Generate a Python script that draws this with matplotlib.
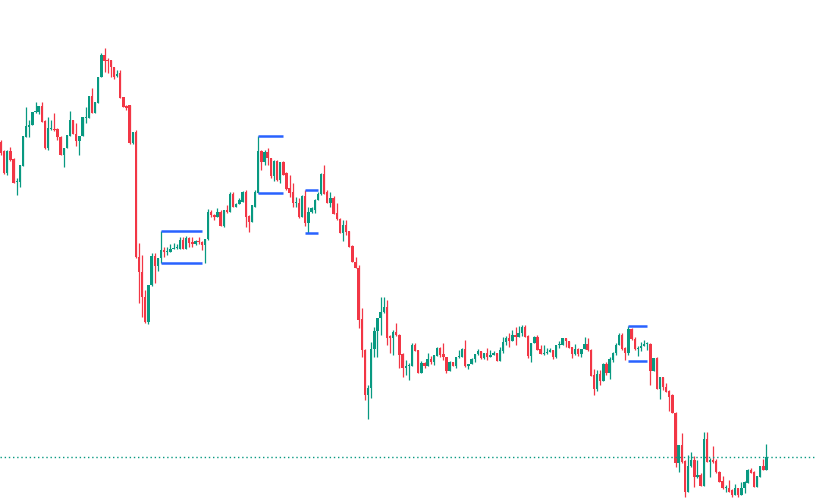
import numpy as np
import matplotlib
matplotlib.use("Agg")
import matplotlib.pyplot as plt

# OHLC per candle (arbitrary price units)
opens = [358, 349, 327, 349, 341, 318, 318, 334, 363, 373, 375, 388, 388, 394, 379, 352, 371, 371, 371, 363,
         345, 352, 364, 380, 366, 359, 364, 382, 382, 404, 387, 397, 423, 445, 440, 440, 433, 424, 427, 403,
         394, 395, 357, 368, 243, 228, 203, 178, 215, 244, 234, 242, 250, 248, 248, 251, 252, 251, 260, 251,
         262, 258, 256, 259, 258, 255, 261, 288, 285, 283, 288, 274, 290, 288, 306, 293, 296, 298, 308, 284,
         278, 293, 307, 349, 338, 348, 342, 324, 339, 320, 338, 327, 312, 308, 297, 297, 283, 304, 277, 288,
         290, 300, 306, 326, 308, 297, 302, 287, 281, 267, 275, 269, 254, 238, 232, 181, 150, 105, 112, 151,
         169, 182, 188, 193, 164, 162, 168, 165, 146, 132, 134, 134, 155, 150, 127, 137, 134, 141, 138, 144,
         152, 146, 143, 129, 138, 134, 143, 143, 151, 134, 136, 141, 146, 149, 142, 147, 143, 145, 147, 139,
         149, 158, 162, 159, 165, 163, 167, 173, 164, 144, 157, 163, 151, 146, 147, 148, 150, 143, 155, 155,
         162, 159, 153, 146, 151, 146, 151, 156, 150, 125, 111, 126, 119, 136, 127, 140, 147, 155, 165, 152,
         147, 171, 161, 151, 152, 154, 156, 156, 129, 142, 111, 123, 113, 109, 105, 87, 37, 55, 39, 8,
         34, 40, 23, 25, 14, 61, 38, 40, 39, 28, 19, 12, 12, 10, 5, 12, 5, 12, 17, 30,
         28, 13, 23, 34, 30]
highs = [360, 350, 350, 353, 342, 322, 335, 364, 393, 380, 388, 398, 394, 398, 380, 383, 380, 387, 372, 364,
         352, 365, 389, 380, 377, 364, 383, 393, 404, 412, 398, 423, 447, 452, 442, 440, 433, 430, 430, 403,
         395, 395, 368, 370, 257, 245, 210, 215, 247, 247, 242, 269, 253, 253, 256, 257, 256, 263, 263, 264,
         263, 263, 260, 263, 259, 261, 291, 290, 286, 292, 290, 290, 295, 308, 308, 297, 302, 309, 310, 285,
         295, 310, 364, 350, 350, 352, 342, 340, 340, 338, 339, 328, 325, 317, 303, 302, 305, 310, 293, 293,
         301, 308, 327, 335, 310, 308, 304, 297, 282, 280, 280, 269, 255, 243, 235, 192, 151, 115, 158, 173,
         182, 203, 203, 200, 165, 170, 177, 166, 147, 140, 137, 157, 157, 150, 139, 138, 147, 144, 145, 153,
         153, 157, 143, 139, 138, 143, 150, 152, 160, 136, 142, 146, 151, 149, 147, 152, 150, 149, 147, 153,
         163, 164, 167, 170, 173, 174, 175, 175, 165, 157, 164, 165, 155, 155, 152, 152, 150, 155, 159, 162,
         162, 159, 153, 156, 152, 151, 163, 162, 151, 131, 130, 130, 137, 138, 143, 148, 157, 167, 167, 153,
         174, 172, 163, 154, 158, 160, 158, 157, 142, 143, 123, 123, 117, 110, 106, 88, 55, 67, 40, 45,
         48, 44, 40, 27, 68, 68, 42, 54, 41, 29, 24, 15, 20, 11, 16, 12, 18, 19, 31, 32,
         29, 24, 34, 41, 56]
lows = [345, 326, 325, 339, 317, 305, 313, 334, 363, 363, 375, 387, 386, 378, 351, 350, 370, 369, 360, 345,
        333, 352, 364, 366, 354, 345, 364, 377, 382, 387, 387, 397, 423, 428, 427, 423, 421, 423, 402, 393,
        390, 356, 356, 242, 197, 183, 177, 176, 214, 217, 229, 237, 243, 245, 248, 251, 251, 251, 251, 251,
        253, 253, 255, 256, 250, 237, 260, 283, 280, 283, 274, 273, 287, 288, 293, 293, 296, 298, 273, 268,
        278, 293, 307, 330, 335, 335, 322, 319, 319, 317, 325, 310, 303, 293, 293, 282, 283, 274, 267, 287,
        287, 300, 305, 306, 297, 293, 286, 280, 267, 259, 265, 253, 238, 232, 172, 143, 100, 81, 102, 143,
        143, 165, 187, 155, 147, 145, 164, 132, 123, 125, 120, 134, 149, 127, 127, 132, 134, 136, 135, 144,
        143, 140, 127, 129, 134, 132, 142, 143, 133, 131, 136, 138, 145, 141, 141, 140, 143, 145, 139, 139,
        147, 155, 153, 159, 155, 163, 164, 163, 142, 138, 157, 150, 146, 145, 146, 148, 141, 142, 152, 155,
        153, 152, 142, 145, 144, 143, 151, 149, 124, 105, 109, 115, 119, 125, 121, 138, 145, 155, 150, 140,
        145, 160, 150, 144, 149, 154, 150, 115, 129, 111, 101, 110, 108, 89, 87, 33, 28, 37, 3, 8,
        33, 13, 22, 14, 14, 38, 23, 37, 27, 18, 11, 8, 8, 3, 5, 3, 5, 7, 17, 27,
        13, 13, 23, 30, 30]
closes = [347, 327, 349, 340, 317, 319, 335, 364, 374, 375, 388, 389, 394, 378, 352, 372, 371, 370, 363, 345,
          352, 365, 380, 366, 359, 364, 383, 383, 404, 387, 398, 423, 445, 439, 439, 433, 423, 426, 402, 393,
          392, 357, 368, 243, 228, 203, 178, 215, 244, 234, 242, 250, 248, 249, 251, 252, 253, 260, 251, 262,
          257, 256, 259, 258, 255, 261, 288, 285, 283, 288, 274, 290, 288, 306, 293, 296, 300, 308, 283, 278,
          295, 308, 349, 338, 348, 342, 324, 339, 320, 338, 325, 311, 307, 297, 297, 283, 304, 277, 288, 292,
          300, 306, 326, 306, 297, 302, 286, 281, 267, 275, 268, 253, 238, 232, 180, 150, 105, 112, 151, 169,
          182, 188, 193, 162, 162, 168, 165, 145, 132, 134, 135, 155, 149, 127, 137, 134, 141, 138, 145, 152,
          145, 143, 129, 138, 134, 143, 144, 151, 134, 136, 141, 146, 149, 142, 147, 143, 145, 147, 139, 150,
          158, 162, 159, 165, 163, 167, 173, 163, 144, 157, 163, 150, 146, 147, 148, 150, 143, 155, 156, 162,
          159, 152, 146, 151, 146, 151, 156, 150, 124, 111, 126, 119, 136, 127, 141, 147, 155, 165, 151, 147,
          171, 161, 151, 152, 154, 156, 156, 129, 142, 111, 123, 113, 108, 103, 87, 37, 55, 38, 8, 34,
          40, 23, 25, 14, 61, 38, 40, 38, 28, 18, 12, 12, 8, 5, 12, 5, 12, 18, 30, 27,
          13, 24, 34, 30, 43]

# range boxes: first candle, last candle, top, bottom
box_start = [51, 82, 97, 200]
box_end = [64, 90, 101, 206]
box_top = [269, 364, 310, 174]
box_bottom = [237, 307, 267, 139]

up_color = '#089981'
down_color = '#F23645'
box_color = '#2962FF'

o = np.array(opens, dtype=float)
h = np.array(highs, dtype=float)
l = np.array(lows, dtype=float)
c = np.array(closes, dtype=float)
idx = np.arange(len(c))
colors = np.where(c >= o, up_color, down_color)

fig = plt.figure(figsize=(8.17, 4.98), dpi=100)
ax = fig.add_axes([0, 0, 1, 1])

ax.vlines(idx, l, h, colors=colors, lw=0.9)
body_low = np.minimum(o, c)
body_h = np.maximum(np.abs(c - o), 1.2)
ax.bar(idx, body_h, bottom=body_low, width=0.75, color=colors, linewidth=0)

for s, e, t, b in zip(box_start, box_end, box_top, box_bottom):
    ax.hlines([t, b], s, e, colors=box_color, lw=1.8)

ax.axhline(c[-1], color=up_color, lw=1.0, ls=(0, (1, 2)))

ax.set_xlim(-0.32, 260.1)
ax.set_ylim(2, 500)
ax.axis('off')

fig.savefig('out.png', dpi=100)
